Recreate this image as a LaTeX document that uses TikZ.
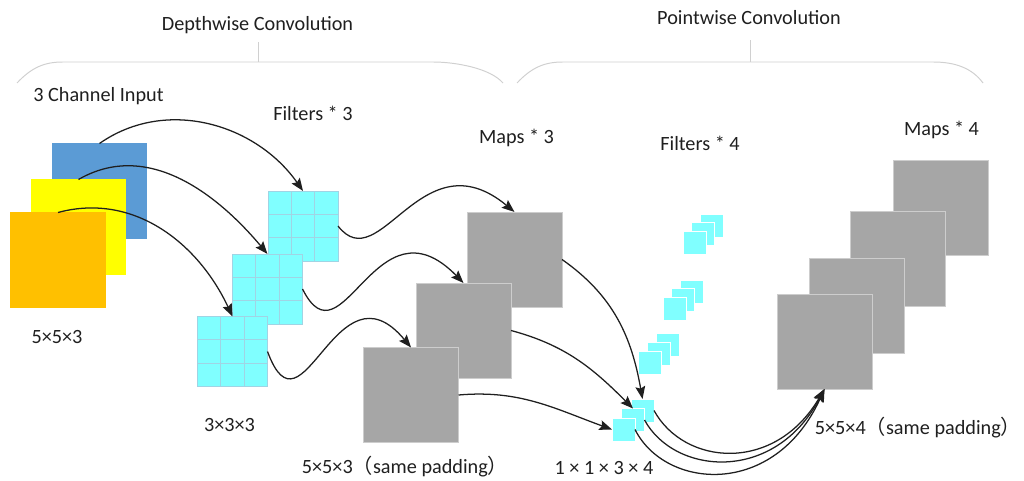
\documentclass[tikz,border=0pt]{standalone}
\usepackage{fontspec}
\setmainfont{Carlito}
\newfontfamily\cjk{Noto Sans CJK SC}
\usetikzlibrary{arrows.meta,positioning,calc}
\definecolor{ChBlue}{RGB}{91,155,213}
\definecolor{ChYellow}{RGB}{255,255,0}
\definecolor{ChOrange}{RGB}{255,192,0}
\definecolor{KernCyan}{RGB}{128,255,255}
\definecolor{KernLine}{RGB}{160,212,228}
\definecolor{MapGray}{RGB}{166,166,166}
\definecolor{MapEdge}{RGB}{205,205,205}
\definecolor{BraceGray}{RGB}{208,208,208}

\begin{document}
\begin{tikzpicture}[x=0.025cm,y=0.025cm,
    ch/.style={minimum size=2.375cm,inner sep=0pt,outer sep=0pt},
    flt/.style={fill=KernCyan,draw=KernLine,line width=0.5pt,
                minimum size=1.75cm,inner sep=0pt,outer sep=0pt},
    gl/.style={KernLine,line width=0.5pt},
    mp/.style={fill=MapGray,draw=MapEdge,line width=0.5pt,
               minimum size=2.375cm,inner sep=0pt,outer sep=0pt},
    sm/.style={fill=KernCyan,draw=white,line width=0.4pt,
               minimum size=0.575cm,inner sep=0pt,outer sep=0pt},
    lb/.style={font=\fontsize{14.4}{17}\selectfont,text=black!88,inner sep=0pt},
    br/.style={BraceGray,line width=0.7pt},
    ar/.style={-{Stealth[length=9pt,width=7pt,inset=1.5pt]},line width=0.9pt,black!88}
  ]
  \useasboundingbox (0,0) rectangle (1024,480);

  % braces
  \draw[br] (17,397) .. controls (32,413) and (45,418) .. (63,418) -- (433,418)
            .. controls (455,418) and (490,412) .. (503,397);
  \draw[br] (258,418) -- (258,438);
  \draw[br] (517,397) .. controls (532,413) and (545,418) .. (563,418) -- (933,418)
            .. controls (955,418) and (972,412) .. (983,397);
  \draw[br] (750,418) -- (750,440);
  \node[lb] (tdw) at (257.5,455) {Depthwise Convolution};
  \node[lb] (tpw) at (749,462) {Pointwise Convolution};

  % input channels
  \node[ch,fill=ChBlue] (inB) at (99.5,289) {};
  \node[ch,fill=ChYellow] (inY) at (78.5,253) {};
  \node[ch,fill=ChOrange] (inO) at (58,220) {};
  \node[lb,anchor=west] (tin) at (33,384) {3 Channel Input};
  \node[lb] (s1) at (57,143) {5×5×3};

  % depthwise filters
  \foreach \n/\x/\y in {f1/303/254,f2/267.5/191,f3/232.5/128.5}{
    \node[flt] (\n) at (\x,\y) {};
    \foreach \t in {0.3333,0.6667}{
      \draw[gl] ($(\n.south west)!\t!(\n.south east)$) -- ($(\n.north west)!\t!(\n.north east)$);
      \draw[gl] ($(\n.south west)!\t!(\n.north west)$) -- ($(\n.south east)!\t!(\n.north east)$);
    }
  }
  \node[lb] (tf3) at (313,367) {Filters * 3};
  \node[lb] (s2) at (229.5,55) {3×3×3};

  % depthwise maps
  \node[mp] (m1) at (514.5,220.5) {};
  \node[mp] (m2) at (463.5,149.5) {};
  \node[mp] (m3) at (411,85) {};
  \node[lb] (tm3) at (516.5,342) {Maps * 3};
  \node[lb] (s3) at (405,13) {5×5×3{\cjk （}same padding{\cjk ）}};

  % pointwise filters
  \foreach \n/\x/\y/\d in {g1/694.5/237.5/8.5,g2/674.5/171.5/8.5,g3/649.5/117.5/9,g4/623.5/50.5/9.5}{
    \node[sm] (\n a) at (\x+2*\d,\y+2*\d) {};
    \node[sm] (\n b) at (\x+\d,\y+\d) {};
    \node[sm] (\n c) at (\x,\y) {};
  }
  \node[lb] (tf4) at (700,337) {Filters * 4};
  \node[lb] (s4) at (604,12) {1 × 1 × 3 × 4};

  % pointwise maps
  \node[mp] (n1) at (940.5,272.5) {};
  \node[mp] (n2) at (898,221.5) {};
  \node[mp] (n3) at (856.5,174.5) {};
  \node[mp] (n4) at (824.5,138.5) {};
  \node[lb] (tm4) at (941.5,350) {Maps * 4};
  \node[lb] (s5) at (918,52) {5×5×4{\cjk （}same padding{\cjk ）}};

  \draw[ar] (inB.north) to[out=35,in=125] (f1.north);
  \draw[ar] (inY.north) to[out=30,in=130] (f2.north);
  \draw[ar] (inO.north) to[out=15,in=115] (f3.north);

  \draw[ar] (f1.east) .. controls +(42,-54) and +(-93,77) .. (m1.north);
  \draw[ar] (f2.east) .. controls +(40,-80) and +(-88,90) .. (m2.north);
  \draw[ar] (f3.east) .. controls +(35,-95) and +(-75,90) .. (m3.north);

  \draw[ar] (m1.east) to[out=-35,in=100] (g4a.north);
  \draw[ar] (m2.east) to[out=-15,in=135] (g4b.north);
  \draw[ar] (m3.east) to[out=5,in=160] (g4c.west);

  \draw[ar] (g4a.east) .. controls +(30,-55) and +(-50,-85) .. (n4.south);
  \draw[ar] (g4b.east) .. controls +(30,-55) and +(-50,-95) .. (n4.south);
  \draw[ar] (g4c.east) .. controls +(30,-60) and +(-50,-110) .. (n4.south);
\end{tikzpicture}
\end{document}
